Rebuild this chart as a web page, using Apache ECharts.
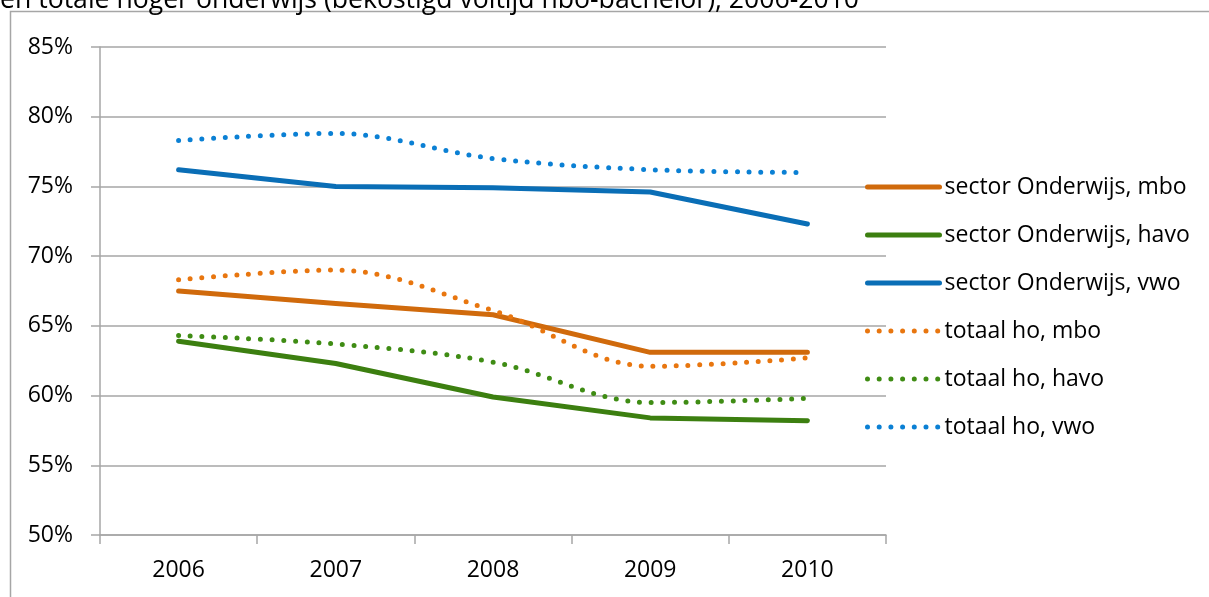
<!DOCTYPE html>
<html><head><meta charset="utf-8">
<script src="https://cdn.jsdelivr.net/npm/echarts@6/dist/echarts.min.js"></script>
<style>html,body{margin:0;padding:0;background:#fff}#c{width:1209px;height:597px}</style>
</head><body><div id="c"></div>
<script>
const titleText = 'en totale hoger onderwijs (bekostigd voltijd hbo-bachelor), 2006-2010';
const categories = ['2006', '2007', '2008', '2009', '2010'];
const sectorMbo = [67.5, 66.6, 65.8, 63.1, 63.1];
const sectorHavo = [63.9, 62.3, 59.9, 58.4, 58.2];
const sectorVwo = [76.2, 75.0, 74.9, 74.6, 72.3];
const totaalMbo = [68.3, 69.0, 66.1, 62.1, 62.7];
const totaalHavo = [64.3, 63.7, 62.4, 59.5, 59.8];
const totaalVwo = [78.3, 78.8, 77.0, 76.2, 76.0];
const seriesNames = ['sector Onderwijs, mbo', 'sector Onderwijs, havo', 'sector Onderwijs, vwo', 'totaal ho, mbo', 'totaal ho, havo', 'totaal ho, vwo'];

const FONT = 'Open Sans';
const grey = '#a6a6a6';
function solid(name, data, color) {
  return { name, type: 'line', data, symbol: 'none', smooth: false,
    lineStyle: { color, width: 5, cap: 'round', join: 'round' }, itemStyle: { color } };
}
function dotted(name, data, color) {
  return { name, type: 'line', data, symbol: 'none', smooth: 0.35,
    lineStyle: { color, width: 5, type: [0, 11.7], cap: 'round' }, itemStyle: { color } };
}
const chart = echarts.init(document.getElementById('c'), null, { renderer: 'canvas' });
chart.setOption({
  animation: false,
  backgroundColor: '#fff',
  graphic: [
    { type: 'rect', shape: { x: 10.5, y: 11.5, width: 1300, height: 700 }, style: { fill: null, stroke: grey, lineWidth: 1.5 } },
    { type: 'text', left: 0, top: -13, style: { text: titleText, font: '26.6px "Open Sans"', fill: '#000' } }
  ],
  grid: { left: 100, right: 323, top: 47, bottom: 62 },
  legend: {
    orient: 'vertical', left: 860, top: 170,
    itemWidth: 72, itemHeight: 24, itemGap: 24,
    data: seriesNames,
    itemStyle: { color: 'rgba(0,0,0,0)', borderWidth: 0 },
    lineStyle: { width: 5, cap: 'round' },
    textStyle: { fontFamily: FONT, fontSize: 23, color: '#000', lineHeight: 24 }
  },
  xAxis: {
    type: 'category', data: categories, boundaryGap: true,
    axisLine: { lineStyle: { color: grey, width: 1.5 } },
    axisTick: { show: true, length: 9, lineStyle: { color: grey, width: 1.5 } },
    axisLabel: { fontFamily: FONT, fontSize: 23, color: '#000', margin: 24 }
  },
  yAxis: {
    type: 'value', min: 50, max: 85, interval: 5,
    axisLine: { show: true, lineStyle: { color: grey, width: 1.5 } },
    axisTick: { show: true, length: 9, lineStyle: { color: grey, width: 1.5 } },
    splitLine: { lineStyle: { color: grey, width: 1.5 } },
    axisLabel: { fontFamily: FONT, fontSize: 23, color: '#000', margin: 27, formatter: '{value}%' }
  },
  series: [
    solid(seriesNames[0], sectorMbo, '#d06a0c'),
    solid(seriesNames[1], sectorHavo, '#3c7f10'),
    solid(seriesNames[2], sectorVwo, '#0a6eb6'),
    dotted(seriesNames[3], totaalMbo, '#e8760f'),
    dotted(seriesNames[4], totaalHavo, '#3f8c14'),
    dotted(seriesNames[5], totaalVwo, '#0b80d4')
  ]
});
</script></body></html>
